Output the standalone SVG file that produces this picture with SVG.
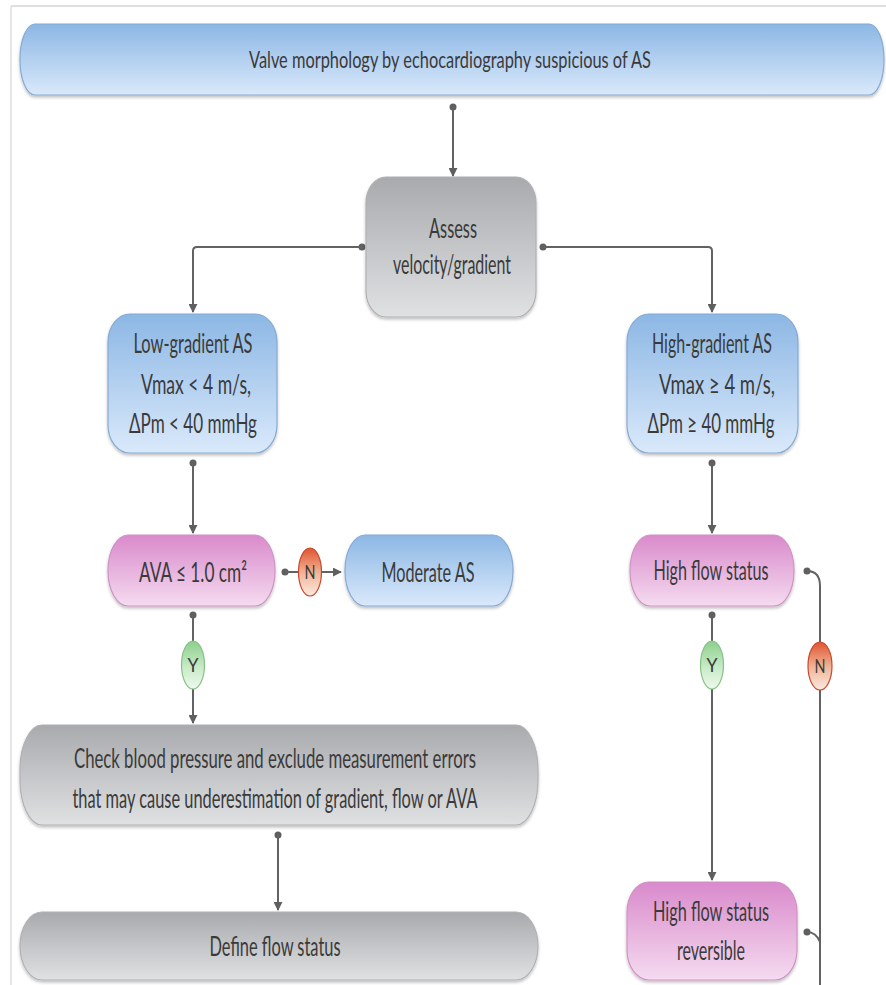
<svg xmlns="http://www.w3.org/2000/svg" width="886" height="985" viewBox="0 0 886 985">
<defs>
<linearGradient id="gBlue" x1="0" y1="0" x2="0" y2="1"><stop offset="0" stop-color="#8cb7e4"/><stop offset="1" stop-color="#dae9fb"/></linearGradient>
<linearGradient id="gGray" x1="0" y1="0" x2="0" y2="1"><stop offset="0" stop-color="#a9aaad"/><stop offset="1" stop-color="#e0e1e3"/></linearGradient>
<linearGradient id="gPink" x1="0" y1="0" x2="0" y2="1"><stop offset="0" stop-color="#d98acb"/><stop offset="1" stop-color="#f5dbf0"/></linearGradient>
<linearGradient id="gRed" x1="0" y1="0" x2="0" y2="1"><stop offset="0" stop-color="#df5530"/><stop offset="0.55" stop-color="#f3b89c"/><stop offset="1" stop-color="#fbe9e0"/></linearGradient>
<linearGradient id="gGreen" x1="0" y1="0" x2="0" y2="1"><stop offset="0" stop-color="#8ccf8c"/><stop offset="0.55" stop-color="#c8ebc8"/><stop offset="1" stop-color="#eef9ee"/></linearGradient>
<filter id="sh" x="-5%" y="-10%" width="110%" height="130%"><feDropShadow dx="0" dy="2" stdDeviation="1.5" flood-color="#000" flood-opacity="0.25"/></filter>
<marker id="arr" viewBox="0 0 10 10" refX="9" refY="5" markerWidth="9" markerHeight="9" markerUnits="userSpaceOnUse" orient="auto"><path d="M0,0 L10,5 L0,10 z" fill="#5f5f5f"/></marker>
<style>
.blue{fill:url(#gBlue);stroke:#86aad3;stroke-width:1.2;filter:url(#sh)}
.gray{fill:url(#gGray);stroke:#b0b1b4;stroke-width:1.2;filter:url(#sh)}
.pink{fill:url(#gPink);stroke:#cf93c4;stroke-width:1.2;filter:url(#sh)}
.red{fill:url(#gRed);stroke:#c9482a;stroke-width:1.2}
.green{fill:url(#gGreen);stroke:#86c286;stroke-width:1.2}
text{font-family:Lato,"Liberation Sans",sans-serif;fill:#3a3a3a;text-anchor:middle}
.t{font-size:26px}
.s{font-size:23px}
.c{font-size:19px}
.ln{fill:none;stroke:#626262;stroke-width:2}
.dot{fill:#5f5f5f}
</style>
</defs>
<rect width="886" height="985" fill="#ffffff"/>
<line x1="11" y1="6" x2="886" y2="6" stroke="#d4d4d4" stroke-width="1.5"/>
<line x1="11" y1="6" x2="11" y2="985" stroke="#dcdcdc" stroke-width="1.5"/>

<g id="connectors">
<circle class="dot" cx="453" cy="107" r="3.5"/>
<path class="ln" d="M453,107 V176" marker-end="url(#arr)"/>
<circle class="dot" cx="362" cy="247" r="3.5"/>
<path class="ln" d="M362,247 H197 Q193,247 193,251 V312" marker-end="url(#arr)"/>
<circle class="dot" cx="543" cy="247" r="3.5"/>
<path class="ln" d="M543,247 H708 Q712,247 712,251 V312" marker-end="url(#arr)"/>
<circle class="dot" cx="193" cy="463" r="3.5"/>
<path class="ln" d="M193,463 V533" marker-end="url(#arr)"/>
<circle class="dot" cx="712" cy="463" r="3.5"/>
<path class="ln" d="M712,463 V533" marker-end="url(#arr)"/>
<circle class="dot" cx="285" cy="572" r="3.5"/>
<path class="ln" d="M285,572 H299"/>
<path class="ln" d="M321,572 H341" marker-end="url(#arr)"/>
<circle class="dot" cx="193" cy="615" r="3.5"/>
<path class="ln" d="M193,615 V642"/>
<path class="ln" d="M193,689 V723" marker-end="url(#arr)"/>
<circle class="dot" cx="712" cy="615" r="3.5"/>
<path class="ln" d="M712,615 V642"/>
<path class="ln" d="M712,689 V880" marker-end="url(#arr)"/>
<circle class="dot" cx="278" cy="835" r="3.5"/>
<path class="ln" d="M278,835 V910" marker-end="url(#arr)"/>
<circle class="dot" cx="807" cy="571" r="3.5"/>
<path class="ln" d="M807,571 Q820,571 820,586 V642"/>
<path class="ln" d="M820,690 V985"/>
<circle class="dot" cx="807" cy="932" r="3.5"/>
<path class="ln" d="M807,932 Q816,932 820,942"/>
</g>

<g id="n-top"><rect class="blue" x="20" y="24" width="864" height="71" rx="15" ry="35"/><text class="s" x="450" y="68" textLength="402" lengthAdjust="spacingAndGlyphs">Valve morphology by echocardiography suspicious of AS</text></g>

<g id="n-assess"><rect class="gray" x="366" y="177" width="170" height="140" rx="20" ry="26"/><text class="t" x="453" y="238" textLength="48" lengthAdjust="spacingAndGlyphs">Assess</text><text class="t" x="452" y="274" textLength="118" lengthAdjust="spacingAndGlyphs">velocity/gradient</text></g>

<g id="n-low"><rect class="blue" x="108" y="314" width="169" height="139" rx="22" ry="28"/><text class="t" x="193" y="353" textLength="119" lengthAdjust="spacingAndGlyphs">Low-gradient AS</text><text class="t" x="196" y="394" textLength="110" lengthAdjust="spacingAndGlyphs">Vmax &lt; 4 m/s,</text><text class="t" x="193" y="433" textLength="128" lengthAdjust="spacingAndGlyphs">ΔPm &lt; 40 mmHg</text></g>

<g id="n-high"><rect class="blue" x="627" y="314" width="171" height="139" rx="22" ry="28"/><text class="t" x="712" y="353" textLength="120" lengthAdjust="spacingAndGlyphs">High-gradient AS</text><text class="t" x="717" y="394" textLength="116" lengthAdjust="spacingAndGlyphs">Vmax ≥ 4 m/s,</text><text class="t" x="711" y="433" textLength="127" lengthAdjust="spacingAndGlyphs">ΔPm ≥ 40 mmHg</text></g>

<g id="n-ava"><rect class="pink" x="108" y="535" width="167" height="71" rx="20" ry="35"/><text class="t" x="193" y="582" textLength="108" lengthAdjust="spacingAndGlyphs">AVA ≤ 1.0 cm²</text></g>

<g id="n-moderate"><rect class="blue" x="345" y="535" width="168" height="71" rx="20" ry="35"/><text class="t" x="428" y="582" textLength="93" lengthAdjust="spacingAndGlyphs">Moderate AS</text></g>

<g id="n-highflow"><rect class="pink" x="630" y="535" width="164" height="71" rx="20" ry="35"/><text class="t" x="711" y="580" textLength="115" lengthAdjust="spacingAndGlyphs">High flow status</text></g>

<g id="n-N1"><ellipse class="red" cx="310" cy="572" rx="11.5" ry="24"/><text class="c" x="310" y="579" textLength="11" lengthAdjust="spacingAndGlyphs">N</text></g>
<g id="n-Y1"><ellipse class="green" cx="193" cy="665" rx="11.5" ry="24"/><text class="c" x="193" y="672" textLength="11" lengthAdjust="spacingAndGlyphs">Y</text></g>
<g id="n-Y2"><ellipse class="green" cx="712" cy="665" rx="11.5" ry="24"/><text class="c" x="712" y="672" textLength="11" lengthAdjust="spacingAndGlyphs">Y</text></g>
<g id="n-N2"><ellipse class="red" cx="820" cy="666" rx="12" ry="24"/><text class="c" x="820" y="673" textLength="11" lengthAdjust="spacingAndGlyphs">N</text></g>

<g id="n-check"><rect class="gray" x="20" y="725" width="518" height="100" rx="22" ry="45"/><text class="t" x="275" y="768" textLength="402" lengthAdjust="spacingAndGlyphs">Check blood pressure and exclude measurement errors</text><text class="t" x="275" y="808" textLength="405" lengthAdjust="spacingAndGlyphs">that may cause underestimation of gradient, flow or AVA</text></g>

<g id="n-define"><rect class="gray" x="20" y="912" width="518" height="68" rx="22" ry="34"/><text class="t" x="275" y="956" textLength="131" lengthAdjust="spacingAndGlyphs">Define flow status</text></g>

<g id="n-reversible"><rect class="pink" x="627" y="882" width="170" height="98" rx="22" ry="30"/><text class="t" x="711" y="921" textLength="116" lengthAdjust="spacingAndGlyphs">High flow status</text><text class="t" x="711" y="960" textLength="68" lengthAdjust="spacingAndGlyphs">reversible</text></g>
</svg>
